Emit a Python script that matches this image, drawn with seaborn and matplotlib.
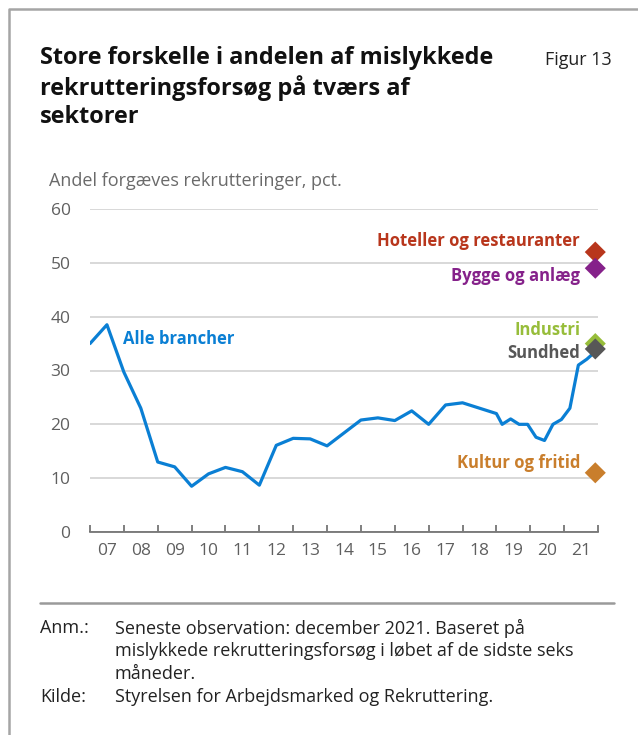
import numpy as np
import pandas as pd
import matplotlib
matplotlib.use("Agg")
import matplotlib.pyplot as plt
import seaborn as sns
from matplotlib.lines import Line2D

# ---------------- data ----------------
years_semi = [2007.0, 2007.5, 2008.0, 2008.5, 2009.0, 2009.5, 2010.0, 2010.5,
              2011.0, 2011.5, 2012.0, 2012.5, 2013.0, 2013.5, 2014.0, 2014.5,
              2015.0, 2015.5, 2016.0, 2016.5, 2017.0, 2017.5, 2018.0, 2018.5,
              2019.0]
values_semi = [35.0, 38.5, 29.7, 23.0, 13.0, 12.1, 8.5, 10.8,
               12.0, 11.2, 8.7, 16.1, 17.4, 17.3, 16.0, 18.4,
               20.8, 21.2, 20.7, 22.5, 20.0, 23.6, 24.0, 23.0,
               22.0]
years_quarter = [2019.17, 2019.42, 2019.67, 2019.92, 2020.17, 2020.42, 2020.67,
                 2020.92, 2021.17, 2021.42, 2021.67, 2021.92]
values_quarter = [20.0, 21.0, 20.0, 20.0, 17.6, 17.0, 20.0,
                  20.9, 23.0, 31.0, 32.1, 33.5]

sectors = ["Hoteller og restauranter", "Bygge og anlæg", "Industri", "Sundhed", "Kultur og fritid"]
sector_values = [52, 49, 35, 34, 11]
sector_colors = ["#b8361c", "#85218a", "#97bd3a", "#575757", "#c97e2c"]
latest_year = 2021.92

x_tick_labels = ["07", "08", "09", "10", "11", "12", "13", "14", "15", "16",
                 "17", "18", "19", "20", "21"]
y_ticks = [0, 10, 20, 30, 40, 50, 60]

line_color = "#0a7fd4"

title = "Store forskelle i andelen af mislykkede\nrekrutteringsforsøg på tværs af\nsektorer"

# ---------------- figure ----------------
sns.set_theme(style="white")
FONT = ["Open Sans", "DejaVu Sans"]
plt.rcParams["font.family"] = FONT

W, H = 638, 735
fig = plt.figure(figsize=(W / 100, H / 100), dpi=100)
ax = fig.add_axes([90 / W, 1 - 532 / H, (598 - 90) / W, (532 - 209) / H])

df = pd.DataFrame({"year": years_semi + years_quarter,
                   "value": values_semi + values_quarter})
sns.lineplot(data=df, x="year", y="value", ax=ax, color=line_color,
             linewidth=2.3, zorder=3)

sdf = pd.DataFrame({"year": [latest_year] * len(sectors), "value": sector_values,
                    "sector": sectors})
sns.scatterplot(data=sdf, x="year", y="value", hue="sector", palette=sector_colors,
                hue_order=sectors, marker="D", s=115, edgecolor="none",
                ax=ax, legend=False, zorder=4, clip_on=False)

ax.set_xlim(2007, 2022)
ax.set_ylim(0, 60)
ax.set_yticks(y_ticks)
ax.set_yticklabels([str(v) for v in y_ticks])
ax.yaxis.grid(True, color="#d2d2d2", linewidth=1.2)
ax.set_axisbelow(True)
for s in ["top", "right", "left"]:
    ax.spines[s].set_visible(False)
ax.spines["bottom"].set_color("#6a6a6a")
ax.spines["bottom"].set_linewidth(1.2)
ax.spines["bottom"].set_zorder(5)

ax.set_xticks(np.arange(2007, 2023))
ax.set_xticklabels([])
ax.set_xticks(np.arange(2007.5, 2022, 1.0), minor=True)
ax.set_xticklabels(x_tick_labels, minor=True)
ax.tick_params(axis="x", which="major", direction="in", length=5, width=1.2,
               color="#6a6a6a", bottom=True)
ax.tick_params(axis="x", which="minor", length=0, pad=8, labelsize=12.5,
               labelcolor="#5f5f5f")
ax.tick_params(axis="y", length=0, pad=14, labelsize=12.5, labelcolor="#5f5f5f")
ax.set_xlabel("")
ax.set_ylabel("")

# labels
ax.text(2007.98, 35.8, "Alle brancher", color=line_color, fontsize=12,
        fontweight="bold", va="center", ha="left")
label_y = [54.0, 47.5, 37.5, 33.3, 12.8]
for name, ly, c in zip(sectors, label_y, sector_colors):
    ax.text(2021.47, ly, name, color=c, fontsize=12, fontweight="bold",
            va="center", ha="right")

# texts
fig.text(40 / W, 1 - 46 / H, title, fontsize=16.9, fontweight="bold",
         color="#111111", va="top", ha="left", linespacing=1.25)
fig.text(545 / W, 1 - 60 / H, "Figur 13", fontsize=12.9, color="#222222",
         va="center", ha="left")
fig.text(49 / W, 1 - 181 / H, "Andel forgæves rekrutteringer, pct.", fontsize=13,
         color="#6a6a6a", va="center", ha="left")

# divider and notes
fig.add_artist(Line2D([40 / W, 614 / W], [1 - 603 / H, 1 - 603 / H], color="#9a9a9a",
                      linewidth=1.8))
NS = 13
note_y = [628, 651, 674, 697]
fig.text(40 / W, 1 - note_y[0] / H, "Anm.:", fontsize=NS, color="#222222", va="center")
fig.text(115 / W, 1 - note_y[0] / H, "Seneste observation: december 2021. Baseret på",
         fontsize=NS, color="#222222", va="center")
fig.text(115 / W, 1 - note_y[1] / H, "mislykkede rekrutteringsforsøg i løbet af de sidste seks",
         fontsize=NS, color="#222222", va="center")
fig.text(115 / W, 1 - note_y[2] / H, "måneder.", fontsize=NS, color="#222222", va="center")
fig.text(40 / W, 1 - note_y[3] / H, "Kilde:", fontsize=NS, color="#222222", va="center")
fig.text(115 / W, 1 - note_y[3] / H, "Styrelsen for Arbejdsmarked og Rekruttering.",
         fontsize=NS, color="#222222", va="center")

# frame (left and top)
fig.add_artist(Line2D([9 / W, 9 / W, 1.0], [0.0, 1 - 9 / H, 1 - 9 / H],
                      color="#a5a5a5", linewidth=1.8))

fig.savefig("out.png", dpi=100)
